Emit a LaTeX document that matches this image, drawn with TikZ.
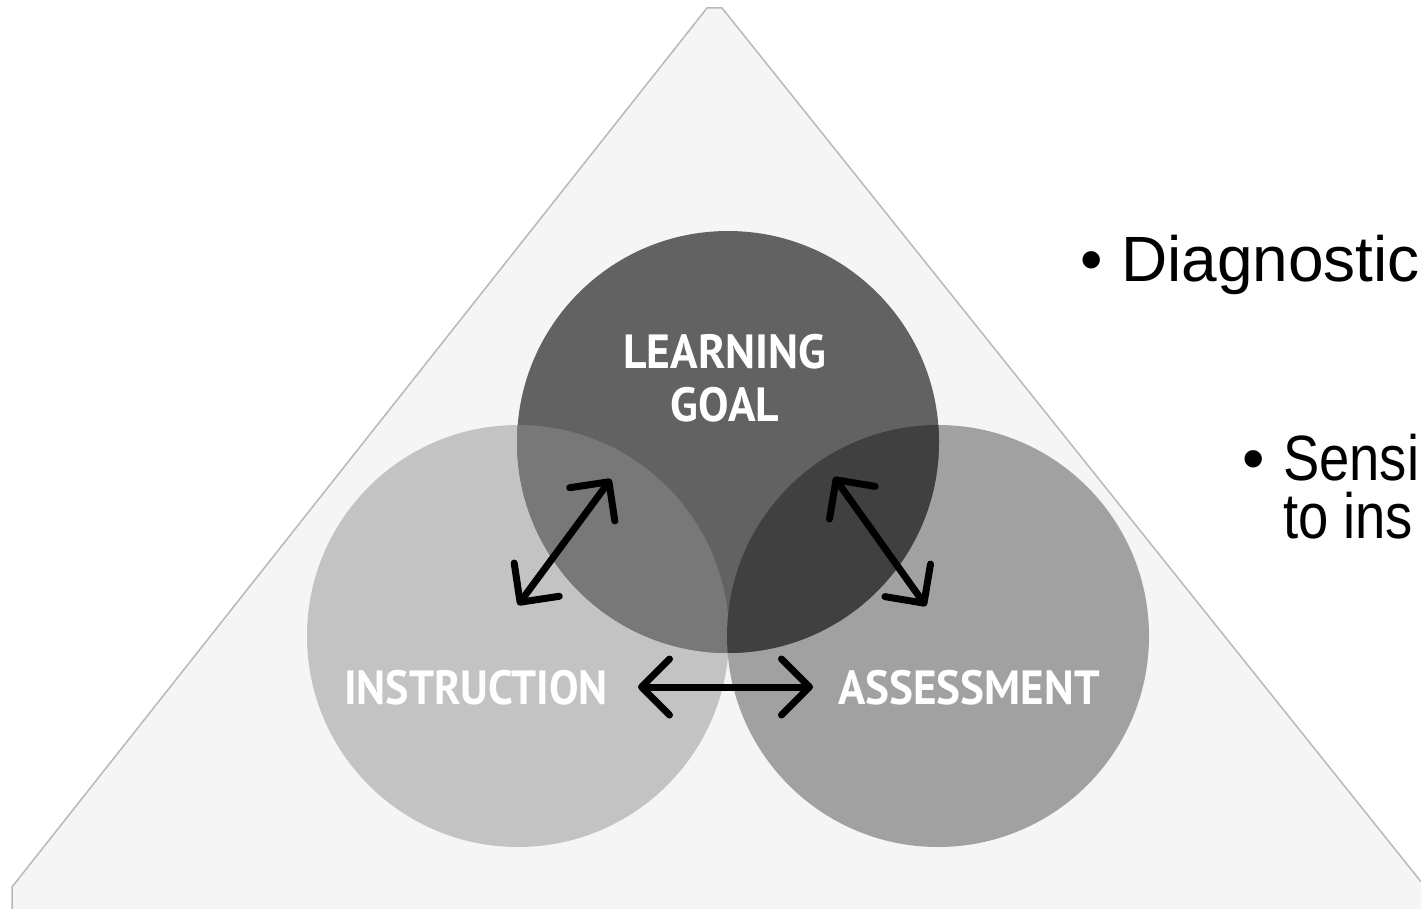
\documentclass[tikz,border=0pt]{standalone}
\usepackage{fontspec}
\setmainfont{Liberation Sans}
\newfontfamily\labelfont{PT Sans}
\usetikzlibrary{arrows.meta}
\definecolor{trifill}{HTML}{F5F5F5}
\definecolor{tridraw}{HTML}{B8B8B8}
\definecolor{insfill}{HTML}{C3C3C3}
\definecolor{assfill}{HTML}{A1A1A1}
\definecolor{goalfill}{HTML}{626262}
\definecolor{goalins}{HTML}{787878}
\definecolor{goalass}{HTML}{404040}
\tikzset{
  venn/.style={circle, minimum size=422pt, inner sep=0pt, draw=none},
  vennlabel/.style={text=white, font=\labelfont\bfseries\fontsize{48}{53}\selectfont, inner sep=0pt, align=center},
  barb/.tip={Straight Barb[length=28pt,width=56pt,line cap=round,line join=round]},
  biarrow/.style={line width=7pt, barb-barb},
  bullettext/.style={font=\fontsize{64}{64}\selectfont, inner sep=0pt, anchor=base west}
}
\begin{document}
\begin{tikzpicture}[x=1pt,y=-1pt]
\useasboundingbox (0,0) rectangle (1421,909);
% triangle
\fill[trifill] (12,909) -- (12,887) -- (707,8) -- (722,8) -- (1430,893) -- (1430,909) -- cycle;
\draw[tridraw, line width=1.5pt] (12,909) -- (12,887) -- (707,8) -- (722,8) -- (1430,893);
% circles
\node[venn, fill=insfill] (ins) at (518,636) {};
\node[venn, fill=assfill] (ass) at (938,636) {};
\node[venn, fill=goalfill] (goal) at (728,442) {};
\begin{scope}
  \clip (728,442) circle (211);
  \fill[goalins] (518,636) circle (211);
  \fill[goalass] (938,636) circle (211);
\end{scope}
% labels
\node[vennlabel] (goaltext) at (725,378) {\scalebox{0.95}[1]{LEARNING}\\\scalebox{0.95}[1]{GOAL}};
\node[vennlabel] (instext) at (476,688) {\scalebox{0.92}[1]{INSTRUCTION}};
\node[vennlabel] (asstext) at (969,688) {\scalebox{0.94}[1]{ASSESSMENT}};
% arrows
\coordinate (a1s) at (518,605);
\coordinate (a1e) at (611,479);
\coordinate (a2s) at (834,477);
\coordinate (a2e) at (926,606);
\coordinate (a3s) at (638,687);
\coordinate (a3e) at (813,687);
\draw[biarrow] (a1s) -- (a1e);
\draw[biarrow] (a2s) -- (a2e);
\draw[biarrow] (a3s) -- (a3e);
% bullet text
\node[bullettext] (b1) at (1080,281) {•};
\node[bullettext] (t1) at (1121,281) {Diagnostic};
\node[bullettext] (b2) at (1242,480) {•};
\node[bullettext] (t2) at (1283,480) {\scalebox{0.85}[1]{Sensi}};
\node[bullettext] (t3) at (1283,538) {\scalebox{0.85}[1]{to ins}};
\end{tikzpicture}
\end{document}
